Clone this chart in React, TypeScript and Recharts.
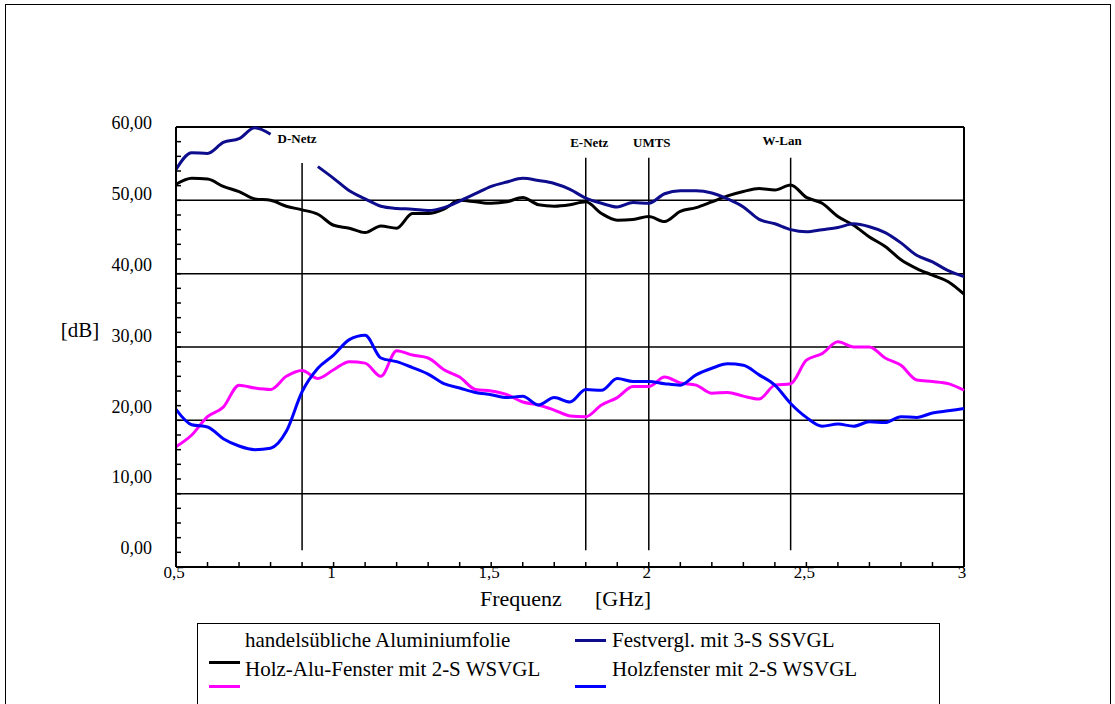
import { LineChart, Line, XAxis, YAxis, ReferenceLine } from 'recharts';

// frequency in GHz, one reading every 50 MHz
const freq = [
  0.5, 0.55, 0.6, 0.65, 0.7, 0.75, 0.8, 0.85, 0.9, 0.95,
  1.0, 1.05, 1.1, 1.15, 1.2, 1.25, 1.3, 1.35, 1.4, 1.45,
  1.5, 1.55, 1.6, 1.65, 1.7, 1.75, 1.8, 1.85, 1.9, 1.95,
  2.0, 2.05, 2.1, 2.15, 2.2, 2.25, 2.3, 2.35, 2.4, 2.45,
  2.5, 2.55, 2.6, 2.65, 2.7, 2.75, 2.8, 2.85, 2.9, 2.95, 3.0,
];

// attenuation in dB
const aluFoil = [
  52.2, 53.0, 52.9, 51.9, 51.2, 50.2, 50.0, 49.2, 48.7, 48.1,
  46.6, 46.2, 45.6, 46.5, 46.2, 48.2, 48.2, 48.8, 50.0, 49.8,
  49.6, 49.8, 50.4, 49.4, 49.2, 49.4, 49.8, 48.2, 47.3, 47.4,
  47.8, 47.1, 48.5, 49.0, 49.8, 50.6, 51.2, 51.6, 51.4, 52.1,
  50.4, 49.6, 47.8, 46.6, 45.0, 43.7, 41.9, 40.7, 39.8, 38.9, 37.2,
];
const festvergl = [
  54.2, 56.5, 56.4, 57.9, 58.4, 59.9, 59.0, null, null, 54.6,
  53.0, 51.3, 50.2, 49.2, 48.9, 48.8, 48.6, 49.0, 49.9, 50.9,
  51.9, 52.5, 53.0, 52.7, 52.3, 51.5, 50.3, 49.6, 49.1, 49.7,
  49.6, 50.9, 51.3, 51.3, 51.0, 50.2, 49.1, 47.4, 46.8, 46.0,
  45.7, 46.0, 46.3, 46.8, 46.4, 45.6, 44.2, 42.5, 41.6, 40.4, 39.6,
];
const holzAlu = [
  16.4, 18.0, 20.5, 21.8, 24.8, 24.4, 24.2, 26.0, 26.8, 25.7,
  26.9, 28.0, 27.8, 26.0, 29.5, 28.9, 28.5, 26.9, 25.9, 24.2,
  24.0, 23.5, 22.5, 22.1, 21.4, 20.6, 20.5, 22.1, 23.1, 24.6,
  24.6, 25.9, 25.1, 24.8, 23.7, 23.8, 23.3, 22.9, 24.8, 25.0,
  28.2, 29.1, 30.7, 30.0, 30.0, 28.5, 27.5, 25.5, 25.3, 25.0, 24.1,
];
const holzfenster = [
  21.5, 19.4, 19.1, 17.5, 16.5, 16.0, 16.2, 18.5, 23.9, 27.1,
  28.9, 31.0, 31.6, 28.5, 28.0, 27.2, 26.3, 25.0, 24.4, 23.8,
  23.5, 23.1, 23.3, 22.1, 23.1, 22.5, 24.2, 24.1, 25.7, 25.3,
  25.3, 25.0, 24.8, 26.2, 27.1, 27.7, 27.5, 26.2, 24.8, 22.3,
  20.4, 19.2, 19.5, 19.2, 19.8, 19.7, 20.5, 20.4, 21.0, 21.3, 21.6,
];

const seriesKeys = ['alu', 'fest', 'holzAlu', 'holz'];
const seriesNames = [
  'handelsübliche Aluminiumfolie',
  'Festvergl. mit 3-S SSVGL',
  'Holz-Alu-Fenster mit 2-S WSVGL',
  'Holzfenster mit 2-S WSVGL',
];
const seriesColors = ['#000000', '#0c0c8c', '#ff00ff', '#0000ff'];

// mobile radio bands marked on the chart
const bandNames = ['D-Netz', 'E-Netz', 'UMTS', 'W-Lan'];
const bandFreqs = [0.9, 1.8, 2.0, 2.45];

const gridValues = [10, 20, 30, 40, 50];
const yTicks = [0, 2, 4, 6, 8, 10, 12, 14, 16, 18, 20, 22, 24, 26, 28, 30, 32, 34, 36, 38, 40, 42, 44, 46, 48, 50, 52, 54, 56, 58, 60];
const yLabelTicks = [0, 10, 20, 30, 40, 50, 60];
const xTicks = [0.5, 0.6, 0.7, 0.8, 0.9, 1, 1.1, 1.2, 1.3, 1.4, 1.5, 1.6, 1.7, 1.8, 1.9, 2, 2.1, 2.2, 2.3, 2.4, 2.5, 2.6, 2.7, 2.8, 2.9, 3];
const xLabelTicks = [0.5, 1, 1.5, 2, 2.5, 3];

const data = freq.map((f, i) => ({
  f,
  alu: aluFoil[i],
  fest: festvergl[i],
  holzAlu: holzAlu[i],
  holz: holzfenster[i],
}));

const SERIF = '"Liberation Serif", "Times New Roman", serif';

// band marker styling: where the vertical line stops and how its caption sits
const bandTop = [55.1, 55.8, 55.8, 55.8];
const bandShift = [-5, 3.5, 3, -8.5];
const bandLift = [19.5, 10.5, 10.5, 12.5];

function XTick({ x, y, payload }: any) {
  if (!xLabelTicks.includes(payload.value)) return <g />;
  return (
    <text x={x - 2} y={y} dy="0.35em" textAnchor="middle" fontSize={17} fontFamily={SERIF} fill="#000">
      {String(payload.value).replace('.', ',')}
    </text>
  );
}

function YTick({ x, y, payload }: any) {
  if (!yLabelTicks.includes(payload.value)) return <g />;
  // labels drift upward relative to their gridline, as in the original
  const drift = -4 - (60 - payload.value) * 0.25;
  return (
    <text x={x} y={y + drift} dy="0.35em" textAnchor="end" fontSize={18} fontFamily={SERIF} fill="#000">
      {`${payload.value},00`}
    </text>
  );
}

function ChartLegend() {
  const textPos = [[245, 640], [612, 640], [245, 669], [612, 669]];
  const swatchPos = [[209, 662], [575, 640], [209, 686], [575, 686]];
  return (
    <>
      <div style={{ position: 'absolute', left: 197, top: 623, width: 743, height: 120, border: '1.5px solid #000', boxSizing: 'border-box' }} />
      {seriesNames.map((name, i) => (
        <div key={name}>
          <div style={{ position: 'absolute', left: swatchPos[i][0], top: swatchPos[i][1] - 1.5, width: 31, height: 3, background: seriesColors[i] }} />
          <div style={{ position: 'absolute', left: textPos[i][0], top: textPos[i][1] - 12, fontFamily: SERIF, fontSize: 21, lineHeight: '24px', whiteSpace: 'nowrap', color: '#000' }}>
            {name}
          </div>
        </div>
      ))}
    </>
  );
}

export default function App() {
  return (
    <div style={{ position: 'absolute', left: 0, top: 0, width: 1115, height: 704, overflow: 'hidden', background: '#fff' }}>
      <div style={{ position: 'absolute', left: 5, top: 4, width: 1106, height: 760, border: '1.5px solid #000', boxSizing: 'border-box' }} />
      <div style={{ position: 'absolute', left: 0, top: 0 }}>
        <LineChart width={1115} height={704} data={data} margin={{ top: 127, right: 151, bottom: 107, left: 116 }}>
          <XAxis
            dataKey="f"
            type="number"
            domain={[0.5, 3]}
            ticks={xTicks}
            interval={0}
            height={30}
            tickSize={-5}
            tickMargin={10}
            tick={<XTick />}
            axisLine={{ stroke: '#000', strokeWidth: 2 }}
            tickLine={{ stroke: '#000', strokeWidth: 1.5 }}
            label={(p: any) => (
              <g fontFamily={SERIF} fontSize={22} fill="#000">
                <text x={p.viewBox.x + 304} y={p.viewBox.y + 31} dominantBaseline="central">Frequenz</text>
                <text x={p.viewBox.x + 419} y={p.viewBox.y + 31} dominantBaseline="central">[GHz]</text>
              </g>
            )}
          />
          <YAxis
            type="number"
            domain={[0, 60]}
            ticks={yTicks}
            interval={0}
            width={60}
            tickSize={-5}
            tickMargin={29}
            tick={<YTick />}
            axisLine={{ stroke: '#000', strokeWidth: 2 }}
            tickLine={{ stroke: '#000', strokeWidth: 1.5 }}
            label={(p: any) => (
              <text x={p.viewBox.x - 36} y={p.viewBox.y + 203} textAnchor="middle" dominantBaseline="central" fontFamily={SERIF} fontSize={21} fill="#000">
                [dB]
              </text>
            )}
          />
          {gridValues.map((v) => (
            <ReferenceLine key={v} y={v} stroke="#000" strokeWidth={1.5} />
          ))}
          <ReferenceLine y={60} stroke="#000" strokeWidth={2} />
          <ReferenceLine x={3} stroke="#000" strokeWidth={2} />
          {bandFreqs.map((f, i) => (
            <ReferenceLine
              key={bandNames[i]}
              segment={[{ x: f, y: 2.3 }, { x: f, y: bandTop[i] }]}
              stroke="#000"
              strokeWidth={1.5}
              label={(p: any) => (
                <text x={p.viewBox.x + bandShift[i]} y={p.viewBox.y - bandLift[i]} textAnchor="middle" fontFamily={SERIF} fontWeight="bold" fontSize={13} fill="#000">
                  {bandNames[i]}
                </text>
              )}
            />
          ))}
          {seriesKeys.map((k, i) => (
            <Line
              key={k}
              dataKey={k}
              name={seriesNames[i]}
              type="monotone"
              stroke={seriesColors[i]}
              strokeWidth={3}
              dot={false}
              activeDot={false}
              isAnimationActive={false}
            />
          ))}
        </LineChart>
      </div>
      <ChartLegend />
    </div>
  );
}
